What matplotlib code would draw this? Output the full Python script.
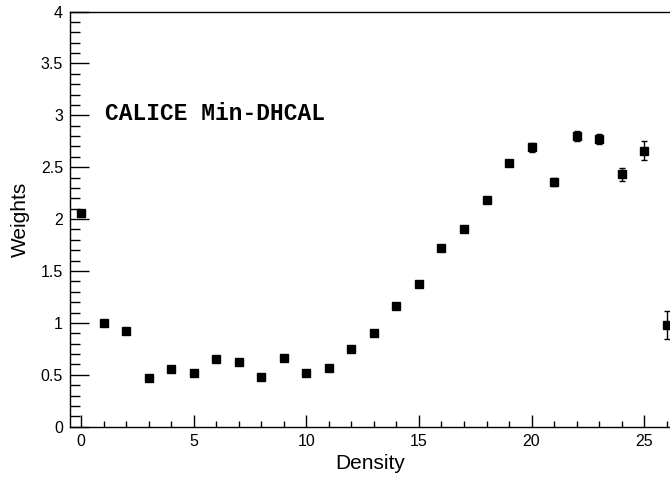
import matplotlib
matplotlib.use("Agg")
from matplotlib import pyplot as plt
from matplotlib.ticker import MultipleLocator

# layer density bins and fitted weights
density = list(range(27))
weights = [2.06, 1.00, 0.92, 0.47, 0.56, 0.52, 0.655, 0.62, 0.476, 0.665,
           0.52, 0.563, 0.75, 0.906, 1.16, 1.378, 1.725, 1.90, 2.185, 2.545,
           2.69, 2.36, 2.80, 2.77, 2.43, 2.66, 0.98]
errors = [0.0, 0.0, 0.0, 0.0, 0.0, 0.0, 0.0, 0.0, 0.0, 0.0,
          0.0, 0.0, 0.0, 0.0, 0.0, 0.0, 0.0, 0.0, 0.0, 0.02,
          0.04, 0.04, 0.045, 0.05, 0.067, 0.09, 0.133]

plt.rcParams["font.family"] = ["Liberation Sans", "DejaVu Sans"]

fig = plt.figure(figsize=(6.7, 4.78), dpi=100)
ax = fig.add_axes([70 / 670, 1 - 426.7 / 478, 600 / 670, 415.2 / 478])

ax.errorbar(density, weights, yerr=errors, fmt="s", color="black",
            markersize=5.6, ecolor="black", elinewidth=1.0, capsize=2.5,
            capthick=1.0)

ax.set_xlim(-0.5, 26.15)
ax.set_ylim(0, 4)

ax.xaxis.set_major_locator(MultipleLocator(5))
ax.xaxis.set_minor_locator(MultipleLocator(1))
ax.yaxis.set_major_locator(MultipleLocator(0.5))
ax.yaxis.set_minor_locator(MultipleLocator(0.1))
ax.yaxis.set_major_formatter(plt.FuncFormatter(lambda v, p: f"{v:g}"))

ax.tick_params(axis="x", which="major", direction="in", length=8.6,
               width=1, labelsize=11.5, pad=5)
ax.tick_params(axis="x", which="minor", direction="in", length=4.3, width=1)
ax.tick_params(axis="y", which="major", direction="in", length=13.9,
               width=1, labelsize=11.5, pad=5)
ax.tick_params(axis="y", which="minor", direction="in", length=7.2, width=1)

ax.spines["right"].set_visible(False)
for s in ("left", "bottom", "top"):
    ax.spines[s].set_linewidth(1.0)

ax.set_xlabel("Density", fontsize=15, labelpad=4)
ax.set_ylabel("Weights", fontsize=15, labelpad=8)

ax.text(105, 478 - 114, "CALICE Min-DHCAL", transform=None,
        family="Liberation Mono", fontweight="bold", fontsize=16.5,
        va="center", ha="left")

plt.savefig("out.png", dpi=100)
plt.close(fig)
